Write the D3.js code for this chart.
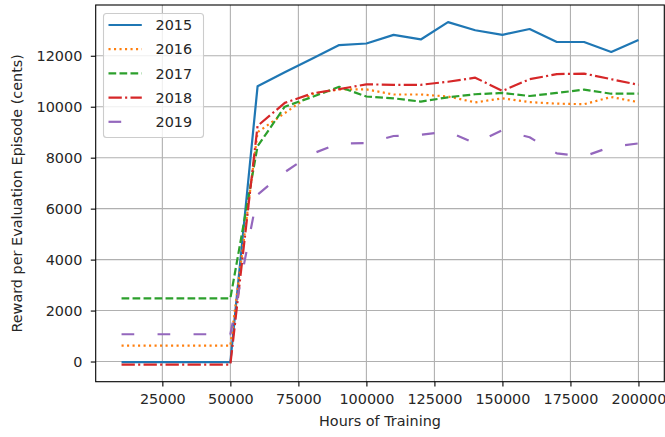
<!DOCTYPE html>
<html>
<head>
<meta charset="utf-8">
<script src="https://cdn.jsdelivr.net/npm/d3@7"></script>
<style>
  html, body { margin: 0; padding: 0; background: #fff; }
  svg { display: block; }
  text { font-family: "DejaVu Sans", sans-serif; fill: #262626; }
</style>
</head>
<body>
<svg id="chart" width="665" height="437"></svg>
<script>
const hours = [10000, 20000, 30000, 40000, 50000, 60000, 70000, 80000, 90000, 100000,
               110000, 120000, 130000, 140000, 150000, 160000, 170000, 180000, 190000, 200000];
const years = ["2015", "2016", "2017", "2018", "2019"];
const r2015 = [-20, -20, -20, -20, -20, 10800, 11350, 11880, 12420, 12480, 12820, 12640, 13320, 13000, 12820, 13050, 12540, 12540, 12150, 12620];
const r2016 = [620, 620, 620, 620, 620, 9000, 9750, 10500, 10680, 10680, 10480, 10480, 10400, 10170, 10330, 10180, 10120, 10100, 10380, 10180];
const r2017 = [2480, 2480, 2480, 2480, 2480, 8450, 10000, 10380, 10780, 10400, 10330, 10200, 10370, 10490, 10540, 10420, 10540, 10670, 10510, 10510];
const r2018 = [-120, -120, -120, -120, -120, 9250, 10150, 10520, 10690, 10880, 10860, 10860, 10980, 11140, 10620, 11080, 11280, 11300, 11080, 10860];
const r2019 = [1070, 1070, 1070, 1070, 1070, 6550, 7430, 8150, 8560, 8570, 8850, 8900, 9020, 8560, 9080, 8800, 8170, 8050, 8430, 8560];
const xTicks = [25000, 50000, 75000, 100000, 125000, 150000, 175000, 200000];
const yTicks = [0, 2000, 4000, 6000, 8000, 10000, 12000];

const seriesValues = [r2015, r2016, r2017, r2018, r2019];
const colors = ["#1f77b4", "#ff7f0e", "#2ca02c", "#d62728", "#9467bd"];
const dashes = [null, "2.1,3.4", "7.7,3.3", "13.3,3.3,2.1,3.3", "12.7,23.3"];

const svg = d3.select("#chart");
const L = 95.7, R = 664.3, T = 5, B = 381.7;
const FS = 14.4;

function pad(ext) { const r = ext[1] - ext[0]; return [ext[0] - 0.05 * r, ext[1] + 0.05 * r]; }
const xExt = pad(d3.extent(hours));
const allY = seriesValues.flat();
const yExt = pad(d3.extent(allY));

const x = d3.scaleLinear().domain(xExt).range([L, R]);
const y = d3.scaleLinear().domain(yExt).range([B, T]);

// grid
const g = svg.append("g");
g.selectAll(".vg").data(xTicks).enter().append("line")
  .attr("x1", d => x(d)).attr("x2", d => x(d)).attr("y1", T).attr("y2", B)
  .attr("stroke", "#b0b0b0").attr("stroke-width", 1.1);
g.selectAll(".hg").data(yTicks).enter().append("line")
  .attr("x1", L).attr("x2", R).attr("y1", d => y(d)).attr("y2", d => y(d))
  .attr("stroke", "#b0b0b0").attr("stroke-width", 1.1);

// lines
const line = d3.line().x((d, i) => x(hours[i])).y(d => y(d));
seriesValues.forEach((vals, i) => {
  const p = svg.append("path").datum(vals)
    .attr("d", line)
    .attr("fill", "none")
    .attr("stroke", colors[i])
    .attr("stroke-width", 2.2)
    .attr("stroke-linejoin", "round");
  if (dashes[i]) p.attr("stroke-dasharray", dashes[i]);
});

// axes
const xAxis = svg.append("g").attr("transform", `translate(0,${B})`)
  .call(d3.axisBottom(x).tickValues(xTicks).tickFormat(d3.format("d")).tickSize(4.9).tickPadding(6.8));
const yAxis = svg.append("g").attr("transform", `translate(${L},0)`)
  .call(d3.axisLeft(y).tickValues(yTicks).tickFormat(d3.format("d")).tickSize(4.9).tickPadding(8.5));
[xAxis, yAxis].forEach(a => {
  a.select(".domain").remove();
  a.selectAll(".tick line").attr("stroke", "#000").attr("stroke-width", 1.1);
  a.selectAll(".tick text").attr("font-size", FS).attr("font-family", "DejaVu Sans").attr("fill", "#262626");
});

// spines
svg.append("rect").attr("x", L).attr("y", T).attr("width", R - L).attr("height", B - T)
  .attr("fill", "none").attr("stroke", "#000").attr("stroke-width", 1.1);

// axis labels
svg.append("text").attr("x", (L + R) / 2).attr("y", 426).attr("text-anchor", "middle")
  .attr("font-size", FS).text("Hours of Training");
svg.append("text").attr("transform", `translate(22,${(T + B) / 2}) rotate(-90)`)
  .attr("text-anchor", "middle").attr("font-size", FS)
  .text("Reward per Evaluation Episode (cents)");

// legend
const lg = svg.append("g");
lg.append("rect").attr("x", 103.5).attr("y", 13.5).attr("width", 100).attr("height", 124)
  .attr("rx", 3).attr("ry", 3)
  .attr("fill", "#fff").attr("fill-opacity", 0.8)
  .attr("stroke", "#cccccc").attr("stroke-width", 1.1);
years.forEach((yr, i) => {
  const cy = 25 + i * 24.2;
  const l = lg.append("line").attr("x1", 108.5).attr("x2", 141.8).attr("y1", cy).attr("y2", cy)
    .attr("stroke", colors[i]).attr("stroke-width", 2.2);
  if (dashes[i]) l.attr("stroke-dasharray", dashes[i]);
  lg.append("text").attr("x", 155.5).attr("y", cy + 5.2).attr("font-size", FS).text(yr);
});
</script>
</body>
</html>
